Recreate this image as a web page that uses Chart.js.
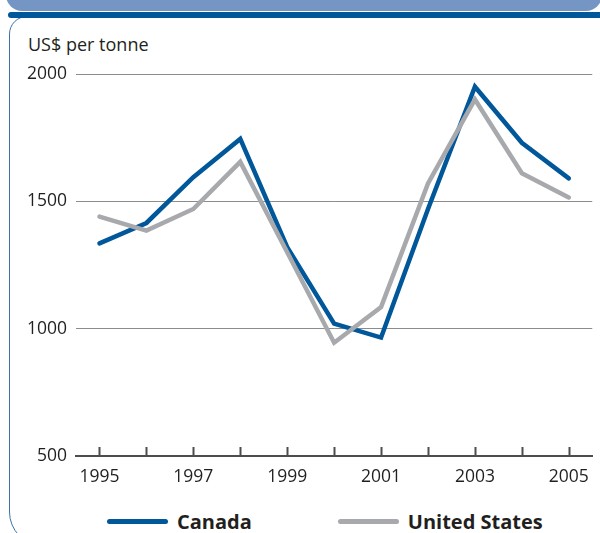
<!DOCTYPE html>
<html>
<head>
<meta charset="utf-8">
<script src="https://cdn.jsdelivr.net/npm/chart.js@4"></script>
<style>
  html, body { margin: 0; padding: 0; background: #fff; }
  body { width: 600px; height: 533px; position: relative; overflow: hidden; font-family: "Open Sans", sans-serif; color: #231f20; }
  .banner { position: absolute; left: 6px; top: -20px; width: 596px; height: 31px; background: #7595c5; border-radius: 0 0 16px 16px; }
  .bar { position: absolute; left: 8px; top: 12px; width: 600px; height: 6px; background: #00579a; border-radius: 3px; }
  .panel { position: absolute; left: 9px; top: 16px; width: 640px; height: 530px; border: 1.5px solid #3b72ad; border-radius: 18px 0 0 34px; box-sizing: border-box; }
  .unit { position: absolute; left: 28px; top: 32px; font-size: 18px; }
  #wrap { position: absolute; left: 0; top: 0; width: 600px; height: 500px; }
  .legend { position: absolute; left: 107px; top: 508px; display: flex; align-items: center; font-weight: bold; font-size: 20px; }
  .legend .item { display: flex; align-items: center; }
  .legend .item + .item { margin-left: 86px; }
  .legend .swatch { width: 61px; height: 5px; border-radius: 3px; margin-right: 9px; }
</style>
</head>
<body>
<div class="banner"></div>
<div class="panel"></div>
<div class="bar"></div>
<div class="unit">US$ per tonne</div>
<div id="wrap"><canvas id="priceChart"></canvas></div>
<div class="legend" id="legend"></div>

<script>
// Yearly prices, US$ per tonne
const years = ["1995", "1996", "1997", "1998", "1999", "2000", "2001", "2002", "2003", "2004", "2005"];
const canada = [1335, 1415, 1595, 1745, 1320, 1020, 965, 1470, 1950, 1730, 1590];
const unitedStates = [1440, 1385, 1470, 1655, 1300, 945, 1085, 1570, 1900, 1610, 1515];
const yTicks = [500, 1000, 1500, 2000];

const seriesNames = ["Canada", "United States"];
const seriesColors = ["#00579a", "#a7a9ac"];

const tickFont = { family: "Open Sans", size: 17.5 };

// Small upward tick marks on the year axis, one per category
const yearTicks = {
  id: "yearTicks",
  afterDatasetsDraw(chart) {
    const { ctx, scales: { x } } = chart;
    const base = chart.chartArea.bottom;
    ctx.save();
    ctx.strokeStyle = "#4d4d4f";
    ctx.lineWidth = 2;
    years.forEach((yr, i) => {
      const px = Math.round(x.getPixelForValue(i)) + 0.5;
      ctx.beginPath();
      ctx.moveTo(px, base);
      ctx.lineTo(px, base - 9);
      ctx.stroke();
    });
    ctx.restore();
  }
};

const ctx = document.getElementById("priceChart").getContext("2d");
new Chart(ctx, {
  type: "line",
  data: {
    labels: years,
    datasets: [
      { label: seriesNames[0], data: canada, borderColor: seriesColors[0] },
      { label: seriesNames[1], data: unitedStates, borderColor: seriesColors[1] }
    ].map(ds => Object.assign(ds, {
      borderWidth: 4.5,
      pointRadius: 0,
      tension: 0,
      fill: false,
      borderJoinStyle: "miter",
      borderCapStyle: "round"
    })).reverse()
  },
  options: {
    responsive: true,
    maintainAspectRatio: false,
    animation: false,
    layout: { padding: { top: 74, right: 4, left: 0, bottom: 0 } },
    plugins: {
      legend: { display: false },
      tooltip: { enabled: false }
    },
    scales: {
      x: {
        type: "category",
        offset: true,
        grid: { display: false, drawTicks: false },
        border: { display: true, color: "#4d4d4f", width: 2 },
        ticks: {
          autoSkip: false,
          maxRotation: 0,
          padding: 11,
          color: "#231f20",
          font: tickFont,
          callback: (v, i) => (i % 2 === 0 ? years[i] : "")
        },
        afterFit: s => { s.height = 44; }
      },
      y: {
        min: 500,
        max: 2000,
        afterBuildTicks: s => { s.ticks = yTicks.map(v => ({ value: v })); },
        grid: { color: "#8c8c8c", lineWidth: 1, drawTicks: false },
        border: { display: false },
        ticks: {
          padding: 9,
          color: "#231f20",
          font: tickFont,
          callback: v => String(v)
        },
        afterFit: s => { s.width = 76; }
      }
    }
  },
  plugins: [yearTicks]
});

// Legend below the chart
const legendEl = document.getElementById("legend");
legendEl.innerHTML = seriesNames.map((name, i) => `
  <div class="item"><span class="swatch" style="background:${seriesColors[i]}"></span>${name}</div>
`).join("");
</script>
</body>
</html>
